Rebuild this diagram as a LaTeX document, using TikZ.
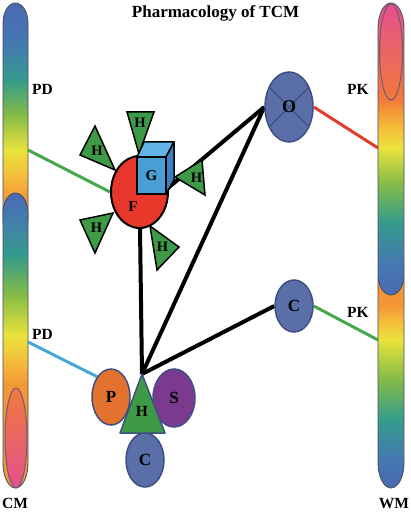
\documentclass[tikz,border=0pt]{standalone}
\usepackage{fontspec}
\setmainfont{Liberation Serif}
\usetikzlibrary{shapes.geometric,calc}
\definecolor{bB}{HTML}{4A68B4}
\definecolor{bBb}{HTML}{4579B0}
\definecolor{bT}{HTML}{349C8C}
\definecolor{bG}{HTML}{86BC46}
\definecolor{bY}{HTML}{E9E33C}
\definecolor{bYO}{HTML}{F5BE3A}
\definecolor{bO}{HTML}{F29636}
\definecolor{bR}{HTML}{F07A3C}
\definecolor{bRm}{HTML}{EF6248}
\definecolor{bP}{HTML}{E5508C}
\definecolor{barline}{HTML}{4A4A5A}
\definecolor{ellline}{HTML}{6E5C7A}
\definecolor{fred}{HTML}{E8382C}
\definecolor{cubeF}{HTML}{4B9DD5}
\definecolor{cubeT}{HTML}{62B4E6}
\definecolor{cubeS}{HTML}{3A7FBE}
\definecolor{hgreen}{HTML}{3E9A47}
\definecolor{slate}{HTML}{5A6EA8}
\definecolor{slateD}{HTML}{3F4F82}
\definecolor{porange}{HTML}{E2722E}
\definecolor{spurple}{HTML}{7B3A8E}
\definecolor{lgreen}{HTML}{45A84B}
\definecolor{lred}{HTML}{E33B2C}
\definecolor{lblue}{HTML}{45A6DA}
\pgfdeclarelayer{bars}
\pgfdeclarelayer{lines}
\pgfsetlayers{bars,lines,main}
\tikzset{
  blk/.style={line width=4pt, black},
  cline/.style={line width=3pt},
  lab/.style={font=\bfseries\fontsize{15.5}{15.5}\selectfont, inner sep=0pt},
  hlet/.style={font=\bfseries\fontsize{14.5}{14.5}\selectfont, inner sep=0pt},
  htri/.style={fill=hgreen, draw=black, line width=1.5pt, line join=miter},
  btri/.style={fill=hgreen, draw=slateD, line width=1.5pt, line join=round},
  cell/.style={ellipse, draw=slateD, line width=1.5pt, inner sep=0pt,
    font=\bfseries\fontsize{17}{17}\selectfont},
  barout/.style={draw=barline, line width=0.8pt},
  ellout/.style={draw=ellline, line width=1pt}
}
\begin{document}
\begin{tikzpicture}[x=1pt,y=1pt]
\useasboundingbox (0,0) rectangle (411,-513);

\begin{pgfonlayer}{bars}
% ---------- left bar, upper capsule ----------
\begin{scope}
\clip (3,-220) -- (3,-23) arc[start angle=180,end angle=0,x radius=12.5,y radius=20]
  -- (28,-220) arc[start angle=0,end angle=-180,x radius=12.5,y radius=20] -- cycle;
\shade[top color=bB,bottom color=bBb] (0,0) rectangle (31,-45.5);
\shade[top color=bBb,bottom color=bT] (0,-45) rectangle (31,-80.5);
\shade[top color=bT,bottom color=bG] (0,-80) rectangle (31,-115.5);
\shade[top color=bG,bottom color=bY] (0,-115) rectangle (31,-150.5);
\shade[top color=bY,bottom color=bYO] (0,-150) rectangle (31,-175.5);
\shade[top color=bYO,bottom color=bO] (0,-175) rectangle (31,-200.5);
\fill[bO] (0,-200) rectangle (31,-245);
\end{scope}
\draw[barout] (3,-220) -- (3,-23) arc[start angle=180,end angle=0,x radius=12.5,y radius=20]
  -- (28,-220) arc[start angle=0,end angle=-180,x radius=12.5,y radius=20] -- cycle;
% ---------- left bar, lower capsule ----------
\begin{scope}
\clip (3,-463) -- (3,-213) arc[start angle=180,end angle=0,x radius=12.5,y radius=20]
  -- (28,-463) arc[start angle=0,end angle=-180,x radius=12.5,y radius=25] -- cycle;
\shade[top color=bB,bottom color=bBb] (0,-190) rectangle (31,-215.5);
\shade[top color=bBb,bottom color=bT] (0,-215) rectangle (31,-255.5);
\shade[top color=bT,bottom color=bG] (0,-255) rectangle (31,-295.5);
\shade[top color=bG,bottom color=bY] (0,-295) rectangle (31,-335.5);
\shade[top color=bY,bottom color=bYO] (0,-335) rectangle (31,-360.5);
\shade[top color=bYO,bottom color=bO] (0,-360) rectangle (31,-385.5);
\fill[bO] (0,-385) rectangle (31,-490);
\end{scope}
\draw[barout] (3,-463) -- (3,-213) arc[start angle=180,end angle=0,x radius=12.5,y radius=20]
  -- (28,-463) arc[start angle=0,end angle=-180,x radius=12.5,y radius=25] -- cycle;
\shade[top color=bR,middle color=bRm,bottom color=bP,ellout] (16,-438) ellipse[x radius=11,y radius=50];

% ---------- right bar, lower capsule ----------
\begin{scope}
\clip (378,-463) -- (378,-280) arc[start angle=180,end angle=0,x radius=13,y radius=20]
  -- (404,-463) arc[start angle=0,end angle=-180,x radius=13,y radius=25] -- cycle;
\fill[bO] (375,-260) rectangle (407,-305.5);
\shade[top color=bO,bottom color=bYO] (375,-305) rectangle (407,-322.5);
\shade[top color=bYO,bottom color=bY] (375,-322) rectangle (407,-340.5);
\shade[top color=bY,bottom color=bG] (375,-340) rectangle (407,-378.5);
\shade[top color=bG,bottom color=bT] (375,-378) rectangle (407,-420.5);
\shade[top color=bT,bottom color=bBb] (375,-420) rectangle (407,-458.5);
\shade[top color=bBb,bottom color=bB] (375,-458) rectangle (407,-490);
\end{scope}
\draw[barout] (378,-463) -- (378,-280) arc[start angle=180,end angle=0,x radius=13,y radius=20]
  -- (404,-463) arc[start angle=0,end angle=-180,x radius=13,y radius=25] -- cycle;
% ---------- right bar, upper capsule ----------
\begin{scope}
\clip (378,-275) -- (378,-28) arc[start angle=180,end angle=0,x radius=13,y radius=25]
  -- (404,-275) arc[start angle=0,end angle=-180,x radius=13,y radius=20] -- cycle;
\shade[top color=bP,bottom color=bR] (375,0) rectangle (407,-100.5);
\shade[top color=bR,bottom color=bO] (375,-100) rectangle (407,-110.5);
\shade[top color=bO,bottom color=bYO] (375,-110) rectangle (407,-128.5);
\shade[top color=bYO,bottom color=bY] (375,-128) rectangle (407,-148.5);
\shade[top color=bY,bottom color=bG] (375,-148) rectangle (407,-183.5);
\shade[top color=bG,bottom color=bT] (375,-183) rectangle (407,-222.5);
\shade[top color=bT,bottom color=bBb] (375,-222) rectangle (407,-262.5);
\shade[top color=bBb,bottom color=bB] (375,-262) rectangle (407,-300);
\end{scope}
\draw[barout] (378,-275) -- (378,-28) arc[start angle=180,end angle=0,x radius=13,y radius=25]
  -- (404,-275) arc[start angle=0,end angle=-180,x radius=13,y radius=20] -- cycle;
\shade[top color=bP,middle color=bRm,bottom color=bR,ellout] (391,-52) ellipse[x radius=11.5,y radius=48];
\end{pgfonlayer}

% ---------- labels ----------
\node[font=\bfseries\fontsize{17}{17}\selectfont, anchor=base, inner sep=0pt] (title) at (215.5,-17.5) {Pharmacology of TCM};
\node[lab, anchor=base west] (pd1) at (32,-94.5) {PD};
\node[lab, anchor=base west] (pd2) at (32,-339) {PD};
\node[lab, anchor=base west] (pk1) at (347,-94.5) {PK};
\node[lab, anchor=base west] (pk2) at (347,-317) {PK};
\node[lab, anchor=base] (cm) at (15,-508) {CM};
\node[lab, anchor=base] (wm) at (394,-508) {WM};

% ---------- H triangles around F ----------
\draw[htri] (127,-112) -- (154,-112) -- (139,-154) -- cycle;
\node[hlet] (H1) at (140,-123) {H};
\draw[htri] (95,-126) -- (80,-155) -- (115,-170) -- cycle;
\node[hlet] (H2) at (97,-150.5) {H};
\draw[htri] (202,-160) -- (205,-195) -- (175,-177) -- cycle;
\node[hlet] (H3) at (196.5,-178) {H};
\draw[htri] (80,-220) -- (113,-213) -- (95,-253) -- cycle;
\node[hlet] (H4) at (96.5,-228) {H};
\draw[htri] (150,-226) -- (179,-247) -- (157,-270) -- cycle;
\node[hlet] (H5) at (162.5,-247) {H};

% ---------- F and G ----------
\node[ellipse, fill=fred, draw=black, line width=2pt, minimum width=57, minimum height=72, inner sep=0pt] (F) at (139.5,-192) {};
\node[font=\bfseries\fontsize{15}{15}\selectfont, inner sep=0pt] (Ft) at (133,-207) {F};
\draw[fill=cubeT, line width=1.5pt, line join=round] (137,-157) -- (144,-142) -- (174,-142) -- (166,-157) -- cycle;
\draw[fill=cubeS, line width=1.5pt, line join=round] (166,-157) -- (174,-142) -- (174,-180) -- (166,-194) -- cycle;
\node[rectangle, fill=cubeF, draw=black, line width=2.5pt, minimum width=29, minimum height=37, inner sep=0pt,
  font=\bfseries\fontsize{15}{15}\selectfont] (G) at (151.5,-175.5) {G};

% ---------- O and C ----------
\node[cell, fill=slate, minimum width=48, minimum height=70, font=\bfseries\fontsize{18}{18}\selectfont,
  path picture={\draw[slateD, line width=1.3pt]
     ($(path picture bounding box.center)+(-40,40)$) -- ($(path picture bounding box.center)+(40,-40)$)
     ($(path picture bounding box.center)+(40,40)$) -- ($(path picture bounding box.center)+(-40,-40)$);}] (O) at (289,-107) {O};
\node[cell, fill=slate, minimum width=38, minimum height=52] (C2) at (294,-306) {C};

% ---------- bottom cluster ----------
\node[cell, fill=slate, minimum width=38, minimum height=54] (Cb) at (145,-460) {C};
\node[cell, fill=porange, minimum width=38, minimum height=56] (P) at (111,-397) {P};
\node[cell, fill=spurple, minimum width=42, minimum height=58] (S) at (174,-398) {S};
\coordinate (Hapex) at (142,-374);
\coordinate (HbR) at (165,-433);
\coordinate (HbL) at (120,-433);
\draw[btri] (Hapex) -- (HbR) -- (HbL) -- cycle;
\node[hlet, font=\bfseries\fontsize{15.5}{15.5}\selectfont] (Hb) at (142,-411) {H};

% ---------- connectors ----------
\coordinate (pdA) at (28,-150);
\coordinate (pdB) at (28,-342);
\coordinate (pkA) at (378,-148);
\coordinate (pkB) at (378,-340);
\coordinate (Fin) at ($(F.center)+(0,-20)$);
\begin{pgfonlayer}{lines}
\draw[blk] (O.west) -- (Fin);
\draw[blk] (F) -- (Hapex);
\draw[blk] (O.west) -- (Hapex);
\draw[blk] (Hapex) -- (C2.west);
\draw[cline, lgreen] (pdA) -- (F.west);
\draw[cline, lred] (O.east) -- (pkA);
\draw[cline, lgreen] (C2.east) -- (pkB);
\draw[cline, lblue] (pdB) -- (P.north west);
\end{pgfonlayer}
\end{tikzpicture}
\end{document}
